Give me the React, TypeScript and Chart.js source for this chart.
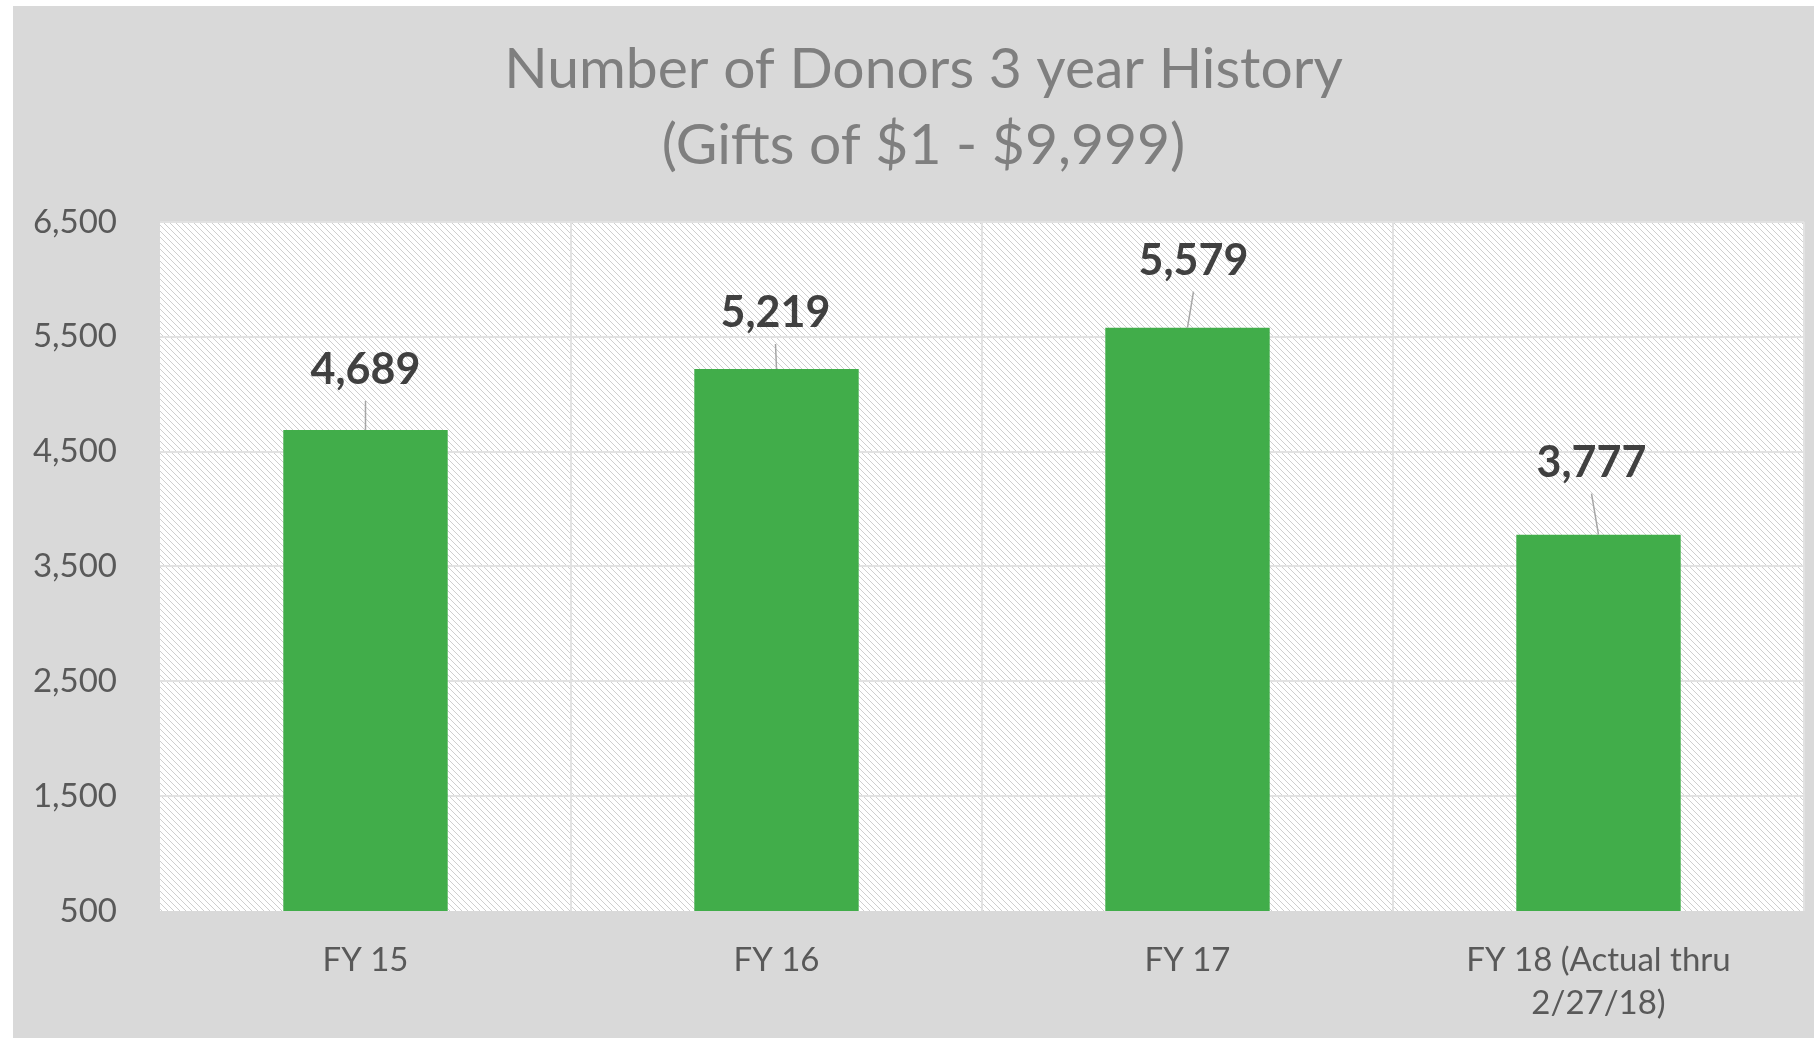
import React, { useEffect, useRef } from 'react';
import { Chart, registerables } from 'chart.js';

Chart.register(...registerables);

const categories: (string | string[])[] = ['FY 15', 'FY 16', 'FY 17', ['FY 18 (Actual thru', '2/27/18)']];
const donors = [4689, 5219, 5579, 3777];
const titleLines = ['Number of Donors 3 year History', '(Gifts of $1 - $9,999)'];
const yMin = 500;
const yMax = 6500;
const yStep = 1000;

const fmt = (v: number) => Number(v).toLocaleString('en-US');

function makePattern(): CanvasPattern | string {
  const c = document.createElement('canvas');
  c.width = 6;
  c.height = 6;
  const g = c.getContext('2d');
  if (!g) return '#f2f2f2';
  g.fillStyle = '#ffffff';
  g.fillRect(0, 0, 6, 6);
  g.fillStyle = '#cfcfcf';
  for (let i = 0; i < 6; i++) g.fillRect(i, i, 1, 1);
  const p = g.createPattern(c, 'repeat');
  return p || '#f2f2f2';
}

const hatchPlugin = {
  id: 'hatchBg',
  beforeDraw(chart: any) {
    const { ctx, chartArea } = chart;
    if (!chartArea) return;
    ctx.save();
    ctx.fillStyle = makePattern();
    ctx.fillRect(chartArea.left, chartArea.top, chartArea.right - chartArea.left, chartArea.bottom - chartArea.top);
    ctx.restore();
  },
};

// shift the title block so it is centred like the original
const titleShiftPlugin = {
  id: 'titleShift',
  afterLayout(chart: any) {
    const tb = chart.titleBlock;
    if (tb) {
      tb.left += 12;
      tb.right += 12;
    }
  },
};

const labelPlugin = {
  id: 'leaderLabels',
  afterDatasetsDraw(chart: any, _args: any, opts: any) {
    const { ctx } = chart;
    const meta = chart.getDatasetMeta(0);
    const values = chart.data.datasets[0].data as number[];
    meta.data.forEach((bar: any, i: number) => {
      const { x, y } = bar.getProps(['x', 'y'], true);
      const n = opts.nudges[i] || { dx: 0, gap: 46 };
      const lx = x + n.dx;
      const baseY = y - n.gap;
      ctx.save();
      ctx.strokeStyle = '#a6a6a6';
      ctx.lineWidth = 1.5;
      ctx.beginPath();
      ctx.moveTo(lx, baseY + 17);
      ctx.lineTo(x, y);
      ctx.stroke();
      ctx.font = 'bold 43px Lato';
      ctx.fillStyle = '#404040';
      ctx.textAlign = 'center';
      ctx.textBaseline = 'alphabetic';
      ctx.fillText(fmt(values[i]), lx, baseY);
      ctx.restore();
    });
  },
};

export default function App() {
  const ref = useRef<HTMLCanvasElement | null>(null);

  useEffect(() => {
    if (!ref.current) return;
    const chart = new Chart(ref.current, {
      type: 'bar',
      data: {
        labels: categories,
        datasets: [
          {
            label: 'Donors',
            data: donors,
            backgroundColor: '#41AD4A',
            borderWidth: 0,
            barPercentage: 0.4,
            categoryPercentage: 1,
          },
        ],
      },
      options: {
        animation: false,
        responsive: false,
        devicePixelRatio: 1,
        layout: { padding: { left: 6, right: 10, top: 0, bottom: 0 } },
        plugins: {
          legend: { display: false },
          tooltip: { enabled: false },
          title: {
            display: true,
            text: titleLines,
            color: '#7f7f7f',
            font: { family: 'Lato', size: 57, weight: 'normal', lineHeight: 1.333 },
            padding: { top: 26, bottom: 38 },
          },
          leaderLabels: {
            nudges: [
              { dx: 0, gap: 46 },
              { dx: -1, gap: 42 },
              { dx: 6, gap: 53 },
              { dx: -7, gap: 58 },
            ],
          },
        } as any,
        scales: {
          x: {
            border: { display: false },
            grid: {
              offset: true,
              drawTicks: false,
              lineWidth: 2,
              color: (c: any) => (c.index === 0 || c.index === categories.length ? 'rgba(0,0,0,0)' : '#e2e2e2'),
            },
            ticks: {
              color: '#595959',
              padding: 27,
              font: { family: 'Lato', size: 33, lineHeight: 1.33 },
              maxRotation: 0,
              autoSkip: false,
            },
            afterFit: (s: any) => {
              s.height = 127;
            },
          },
          y: {
            min: yMin,
            max: yMax,
            border: { display: false },
            grid: {
              drawTicks: false,
              lineWidth: 2,
              color: (c: any) => (c.index === 0 ? 'rgba(0,0,0,0)' : '#e2e2e2'),
            },
            ticks: {
              stepSize: yStep,
              color: '#595959',
              padding: 43,
              font: { family: 'Lato', size: 33 },
              callback: (v: any) => fmt(v),
            },
            afterFit: (s: any) => {
              s.width = 141;
            },
          },
        },
      },
      plugins: [hatchPlugin, labelPlugin, titleShiftPlugin],
    });
    return () => chart.destroy();
  }, []);

  return (
    <div style={{ position: 'fixed', left: 0, top: 0, width: 1814, height: 1038, background: '#ffffff' }}>
      <canvas
        ref={ref}
        width={1801}
        height={1032}
        style={{ position: 'absolute', left: 13, top: 6, width: 1801, height: 1032, background: '#d9d9d9' }}
      />
    </div>
  );
}
